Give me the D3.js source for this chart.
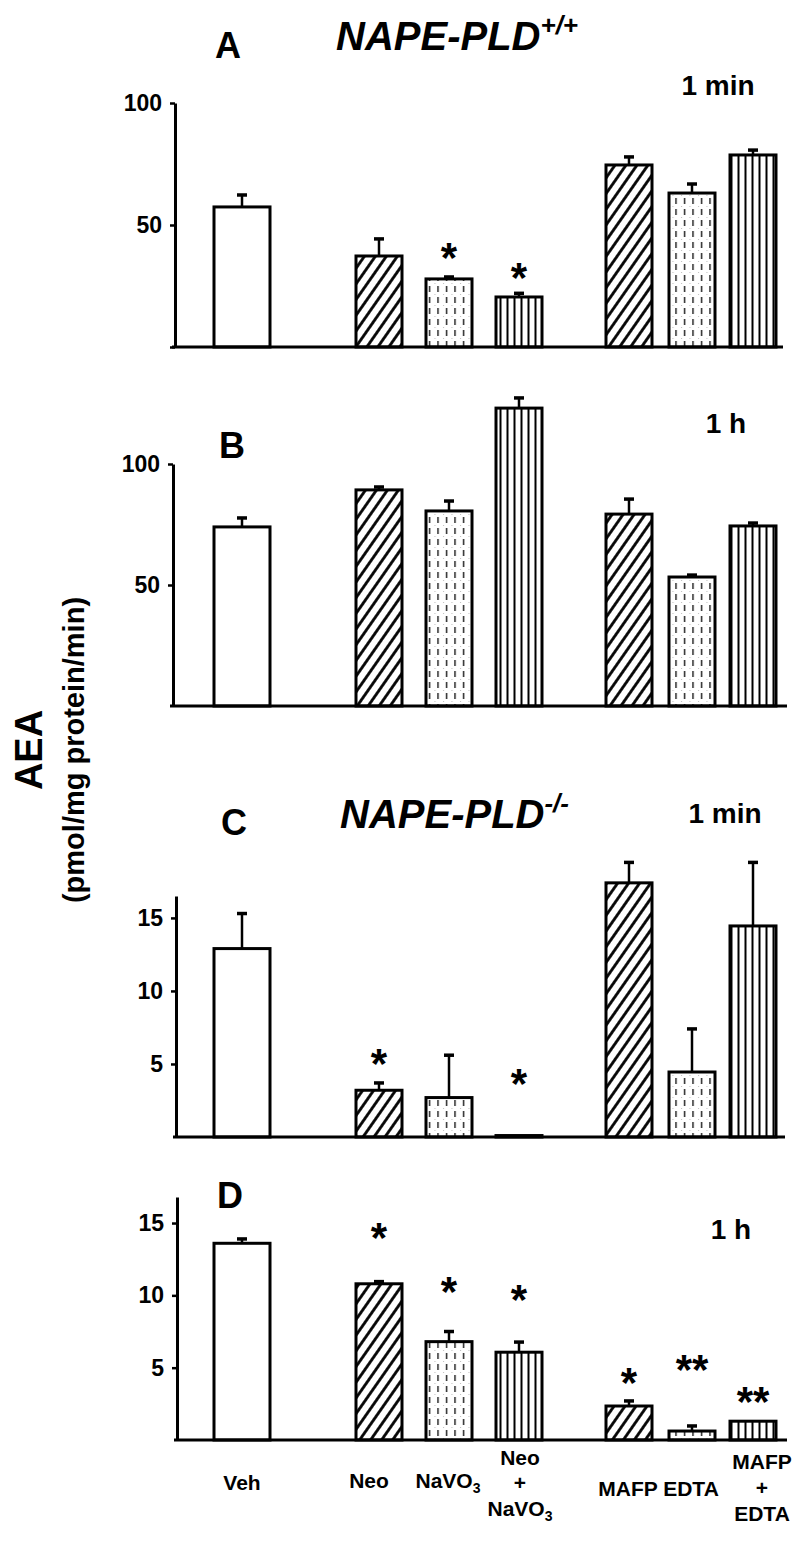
<!DOCTYPE html>
<html><head><meta charset="utf-8">
<script src="https://cdn.jsdelivr.net/npm/d3@7"></script>
<style>body{margin:0;background:#fff}svg{display:block}text{font-family:"Liberation Sans",Arial,sans-serif;font-weight:bold;fill:#000}</style>
</head><body>
<svg id="c" width="800" height="1541"></svg>
<script>
// ---------- data ----------
const categories = ["Veh","Neo","NaVO3","Neo+NaVO3","MAFP","EDTA","MAFP+EDTA"];
const valuesA = [57.4, 37.3, 27.9, 20.5, 74.6, 63.1, 78.7];
const semA    = [4.9, 7.0, 0.8, 1.5, 3.3, 3.7, 2.0];
const sigA    = ["", "", "*", "*", "", "", ""];
const sigAtA  = [0, 0, 39.8, 31.6, 0, 0, 0];
const valuesB = [74.0, 89.3, 80.6, 123.1, 79.3, 53.3, 74.4];
const semB    = [3.7, 1.2, 4.1, 4.2, 6.2, 0.8, 1.2];
const sigB    = ["", "", "", "", "", "", ""];
const sigAtB  = [0, 0, 0, 0, 0, 0, 0];
const valuesC = [12.9, 3.2, 2.7, 0.1, 17.4, 4.45, 14.45];
const semC    = [2.4, 0.5, 2.9, 0, 1.4, 2.95, 4.35];
const sigC    = ["", "*", "", "*", "", "", ""];
const sigAtC  = [0, 5.55, 0, 4.18, 0, 0, 0];
const valuesD = [13.6, 10.8, 6.8, 6.07, 2.35, 0.62, 1.3];
const semD    = [0.3, 0.15, 0.7, 0.7, 0.35, 0.35, 0];
const sigD    = ["", "*", "*", "*", "*", "**", "**"];
const sigAtD  = [0, 14.5, 10.8, 10.2, 4.5, 5.38, 3.17];
const ticksA  = [0, 50, 100];
const ticksB  = [50, 100];
const ticksCD = [5, 10, 15];
const xLabels = [["Veh"],["Neo"],["NaVO3"],["Neo","+","NaVO3"],["MAFP"],["EDTA"],["MAFP","+","EDTA"]];

// ---------- layout ----------
const svg = d3.select("#c");
const defs = svg.append("defs");
// diagonal hatch
const ph = defs.append("pattern").attr("id","hatch").attr("patternUnits","userSpaceOnUse")
  .attr("width",9).attr("height",20).attr("patternTransform","rotate(35)");
ph.append("rect").attr("width",9).attr("height",20).attr("fill","#fff");
ph.append("line").attr("x1",4.5).attr("x2",4.5).attr("y1",0).attr("y2",20).attr("stroke","#000").attr("stroke-width",2.8);
// dashed vertical
const pd = defs.append("pattern").attr("id","dash").attr("patternUnits","userSpaceOnUse")
  .attr("width",8.5).attr("height",11);
pd.append("rect").attr("width",8.5).attr("height",11).attr("fill","#fff");
pd.append("rect").attr("x",1).attr("y",8).attr("width",1).attr("height",1).attr("fill","#bbb");
pd.append("line").attr("x1",4.5).attr("x2",4.5).attr("y1",0).attr("y2",6).attr("stroke","#222").attr("stroke-width",1.5);
// vertical lines
const pv = defs.append("pattern").attr("id","vert").attr("patternUnits","userSpaceOnUse")
  .attr("width",7).attr("height",10);
pv.append("rect").attr("width",7).attr("height",10).attr("fill","#fff");
pv.append("line").attr("x1",3.5).attr("x2",3.5).attr("y1",0).attr("y2",10).attr("stroke","#000").attr("stroke-width",2);

const fillOf = {"Veh":"#fff","Neo":"url(#hatch)","NaVO3":"url(#dash)","Neo+NaVO3":"url(#vert)",
  "MAFP":"url(#hatch)","EDTA":"url(#dash)","MAFP+EDTA":"url(#vert)"};

const x = d3.scaleOrdinal().domain(categories).range([242, 379, 449, 519, 629, 692, 753]);
const barW = c => c === "Veh" ? 56 : 46;

const panels = [
  {vals:valuesA, sem:semA, sig:sigA, sigAt:sigAtA, dom:[0,100], rng:[347,103], ticks:ticksA, axisX:175, xEnd:783},
  {vals:valuesB, sem:semB, sig:sigB, sigAt:sigAtB, dom:[0,100], rng:[706,464], ticks:ticksB, axisX:173, xEnd:787},
  {vals:valuesC, sem:semC, sig:sigC, sigAt:sigAtC, dom:[0,16.5], rng:[1137,896], ticks:ticksCD, axisX:176, xEnd:785},
  {vals:valuesD, sem:semD, sig:sigD, sigAt:sigAtD, dom:[0,16.8], rng:[1440,1197], ticks:ticksCD, axisX:177, xEnd:787},
];

panels.forEach(p => {
  const y = d3.scaleLinear().domain(p.dom).range(p.rng);
  const g = svg.append("g");
  const ax = d3.axisLeft(y).tickValues(p.ticks).tickSize(5).tickSizeOuter(0)
    .tickFormat(d => (d === 0 ? "" : d));
  const ag = g.append("g").attr("transform",`translate(${p.axisX},0)`).call(ax);
  ag.select(".domain").attr("stroke","#000").attr("stroke-width",3);
  ag.selectAll(".tick line").attr("stroke","#000").attr("stroke-width",2.5);
  ag.selectAll(".tick text").attr("font-size",23).attr("font-family","Liberation Sans, Arial").attr("font-weight","bold")
    .attr("x",-13).attr("fill","#000");
  const data = categories.map((c,i)=>({c, v:p.vals[i], e:p.sem[i], s:p.sig[i], sa:p.sigAt[i]}));
  g.selectAll("rect.bar").data(data).enter().append("rect").attr("class","bar")
    .attr("x", d => x(d.c) - barW(d.c)/2).attr("width", d => barW(d.c))
    .attr("y", d => y(d.v)).attr("height", d => y(0) - y(d.v))
    .attr("fill", d => fillOf[d.c]).attr("stroke","#000").attr("stroke-width",3);
  const eb = data.filter(d => d.e > 0);
  g.selectAll("line.err").data(eb).enter().append("line")
    .attr("x1", d=>x(d.c)).attr("x2", d=>x(d.c)).attr("y1", d=>y(d.v)).attr("y2", d=>y(d.v+d.e))
    .attr("stroke","#000").attr("stroke-width",2.5);
  g.selectAll("line.cap").data(eb).enter().append("line")
    .attr("x1", d=>x(d.c)-5).attr("x2", d=>x(d.c)+5).attr("y1", d=>y(d.v+d.e)).attr("y2", d=>y(d.v+d.e))
    .attr("stroke","#000").attr("stroke-width",3.5);
  g.append("line").attr("x1",p.axisX-3).attr("x2",p.xEnd).attr("y1",y(0)).attr("y2",y(0))
    .attr("stroke","#000").attr("stroke-width",3);
  g.selectAll("text.sig").data(data.filter(d=>d.s)).enter().append("text")
    .attr("x", d=>x(d.c)).attr("y", d=>y(d.sa)+22).attr("text-anchor","middle")
    .attr("font-size",42).text(d=>d.s);
});

function txt(t, xx, yy, size) {
  return svg.append("text").attr("x",xx).attr("y",yy).attr("font-size",size).attr("text-anchor","middle").text(t);
}
txt("A", 228, 58, 36);
txt("B", 232, 458, 36);
txt("C", 234, 835, 36);
txt("D", 230, 1208, 36);
txt("1 min", 718, 95, 28);
txt("1 h", 726, 433, 28);
txt("1 min", 725, 823, 28);
txt("1 h", 731, 1239, 28);

function title(sup, xx, yy) {
  const t = svg.append("text").attr("x",xx).attr("y",yy).attr("font-size",40).attr("font-style","italic").attr("text-anchor","start");
  t.append("tspan").text("NAPE-PLD");
  t.append("tspan").attr("font-size",26).attr("dy",-16).text(sup);
}
title("+/+", 336, 50);
title("-/-", 340, 828);

svg.append("text").attr("transform","translate(42,750) rotate(-90)").attr("text-anchor","middle")
  .attr("font-size",38).text("AEA");
svg.append("text").attr("transform","translate(84,750) rotate(-90)").attr("text-anchor","middle")
  .attr("font-size",29).text("(pmol/mg protein/min)");

const lblY = [[1490],[1488],[1488],[1465,1490,1516],[1496],[1496],[1469,1495,1521]];
const lblDX = [0,-10,-1,1,-1,-1,9];
categories.forEach((c,i) => {
  xLabels[i].forEach((s,j) => {
    const t = svg.append("text").attr("x", x(c)+lblDX[i]).attr("y", lblY[i][j]).attr("text-anchor","middle").attr("font-size",21);
    if (s === "NaVO3") {
      t.append("tspan").text("NaVO");
      t.append("tspan").attr("font-size",14).attr("dy",5).text("3");
    } else t.text(s);
  });
});
</script>
</body></html>
